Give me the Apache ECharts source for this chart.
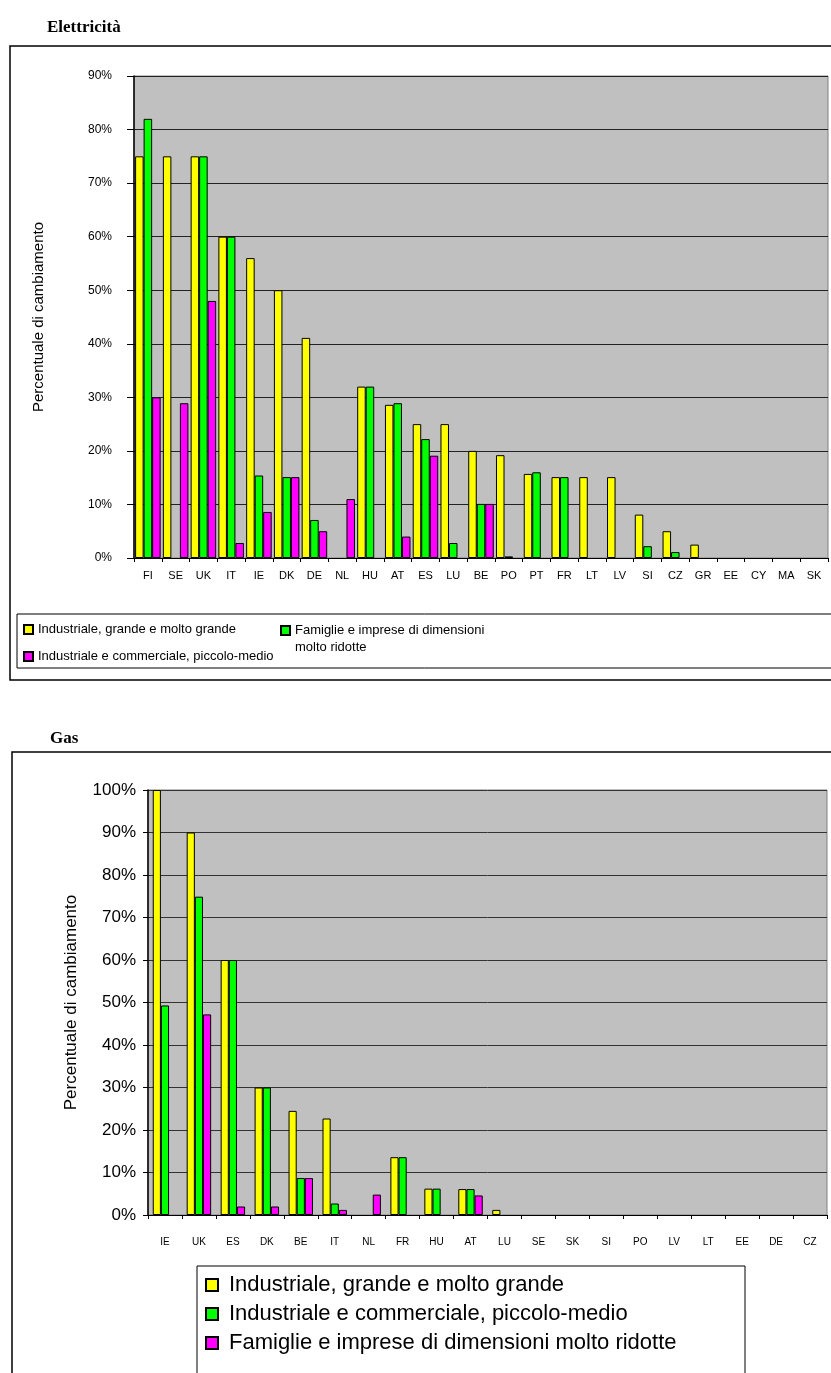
<!DOCTYPE html>
<html>
<head>
<meta charset="utf-8">
<script src="https://cdn.jsdelivr.net/npm/echarts@6/dist/echarts.min.js"></script>
<style>
html,body{margin:0;padding:0;background:#fff;}
#c1{position:absolute;left:0;top:0;width:831px;height:690px;}
#c2{position:absolute;left:0;top:690px;width:831px;height:683px;}
</style>
</head>
<body>
<div id="c1"></div>
<div id="c2"></div>
<script>
// ---------- Elettricità ----------
const elecCategories = ['FI','SE','UK','IT','IE','DK','DE','NL','HU','AT','ES','LU','BE','PO','PT','FR','LT','LV','SI','CZ','GR','EE','CY','MA','SK'];
const elecIndustrialeGrande = [75,75,75,60,56,50,41.1,null,32,28.6,25,25,20,19.2,15.7,15.1,15.1,15.1,8.1,5,2.5,null,null,null,null];
const elecFamiglie = [82,null,75,60,15.4,15.1,7.1,null,32,28.9,22.2,2.8,10.1,0.3,16,15.1,null,null,2.2,1.1,null,null,null,null,null];
const elecIndComm = [30,28.9,48,2.8,8.6,15.1,5,11,null,4,19.1,null,10.1,null,null,null,null,null,null,null,null,null,null,null,null];
const elecYTicks = [0,90,10];

// ---------- Gas ----------
const gasCategories = ['IE','UK','ES','DK','BE','IT','NL','FR','HU','AT','LU','SE','SK','SI','PO','LV','LT','EE','DE','CZ'];
const gasIndustrialeGrande = [100,90,60,30,24.5,22.7,null,13.6,6.2,6.1,1.2,null,null,null,null,null,null,null,null,null];
const gasIndComm = [49.3,74.9,60,30,8.7,2.7,null,13.6,6.2,6.1,null,null,null,null,null,null,null,null,null,null];
const gasFamiglie = [null,47.2,2,2,8.7,1.2,4.8,null,null,4.6,null,null,null,null,null,null,null,null,null,null];
const gasYTicks = [0,100,10];

const NAME_IG = 'Industriale, grande e molto grande';
const NAME_IC = 'Industriale e commerciale, piccolo-medio';
const NAME_FA = 'Famiglie e imprese di dimensioni molto ridotte';
const YEL = '#FFFF00', GRN = '#00FF00', MAG = '#FF00FF';
const FONT = 'Liberation Sans, Arial, sans-serif';

function barSeries(name, data, color, gapCat) {
  return {
    name: name, type: 'bar', data: data,
    barGap: '0%', barCategoryGap: gapCat,
    itemStyle: { color: color, borderColor: '#000', borderWidth: 1 },
    emphasis: { disabled: true }
  };
}

const c1 = echarts.init(document.getElementById('c1'), null, { renderer: 'canvas' });
c1.setOption({
  animation: false,
  backgroundColor: '#fff',
  title: {
    text: 'Elettricità', left: 42, top: 14,
    textStyle: { fontFamily: 'Liberation Serif, Times New Roman, serif', fontWeight: 'bold', fontSize: 17, color: '#000' }
  },
  graphic: [
    { type: 'rect', shape: { x: 10, y: 46, width: 830, height: 634 }, style: { fill: 'none', stroke: '#000', lineWidth: 1.5 }, z: -1 },
    { type: 'rect', shape: { x: 17, y: 614, width: 830, height: 54 }, style: { fill: 'none', stroke: '#000', lineWidth: 1 } }
  ],
  legend: [
    { data: [NAME_IG], left: 23, top: 623, padding: 0, itemWidth: 9, itemHeight: 9, icon: 'rect',
      textStyle: { fontFamily: FONT, fontSize: 13, color: '#000' } },
    { data: [NAME_IC], left: 23, top: 650, padding: 0, itemWidth: 9, itemHeight: 9, icon: 'rect',
      textStyle: { fontFamily: FONT, fontSize: 13, color: '#000' } },
    { data: [NAME_FA], left: 280, top: 605, padding: 0, itemWidth: 9, itemHeight: 9, icon: 'rect',
      formatter: function () { return ' \nFamiglie e imprese di dimensioni\nmolto ridotte'; },
      textStyle: { fontFamily: FONT, fontSize: 13, color: '#000', lineHeight: 17 } }
  ],
  grid: { left: 134, top: 76, width: 694, height: 482, show: true, backgroundColor: '#C0C0C0', borderColor: '#808080', borderWidth: 1 },
  xAxis: {
    type: 'category', data: elecCategories,
    axisLine: { lineStyle: { color: '#000', width: 1 } },
    axisTick: { show: true, length: 4, lineStyle: { color: '#000' } },
    axisLabel: { interval: 0, fontFamily: FONT, fontSize: 11, color: '#000', margin: 12 }
  },
  yAxis: {
    type: 'value', min: elecYTicks[0], max: elecYTicks[1], interval: elecYTicks[2],
    name: 'Percentuale di cambiamento', nameLocation: 'middle', nameGap: 88,
    nameTextStyle: { fontFamily: FONT, fontSize: 15, color: '#000' },
    axisLine: { show: true, lineStyle: { color: '#000', width: 1.5 } },
    axisTick: { show: true, length: 7, lineStyle: { color: '#000' } },
    axisLabel: { formatter: '{value}%', fontFamily: FONT, fontSize: 12, color: '#000', margin: 22 },
    splitLine: { show: true, lineStyle: { color: '#222', width: 1 } }
  },
  series: [
    barSeries(NAME_IG, elecIndustrialeGrande, YEL, '8%'),
    barSeries(NAME_FA, elecFamiglie, GRN, '8%'),
    barSeries(NAME_IC, elecIndComm, MAG, '8%')
  ]
});

const c2 = echarts.init(document.getElementById('c2'), null, { renderer: 'canvas' });
c2.setOption({
  animation: false,
  backgroundColor: '#fff',
  title: {
    text: 'Gas', left: 45, top: 35,
    textStyle: { fontFamily: 'Liberation Serif, Times New Roman, serif', fontWeight: 'bold', fontSize: 17, color: '#000' }
  },
  graphic: [
    { type: 'rect', shape: { x: 12, y: 62, width: 830, height: 700 }, style: { fill: 'none', stroke: '#000', lineWidth: 1.5 }, z: -1 },
    { type: 'rect', shape: { x: 197, y: 576, width: 548, height: 200 }, style: { fill: 'none', stroke: '#000', lineWidth: 1 } }
  ],
  legend: [
    { data: [NAME_IG], left: 205, top: 584, padding: 0, itemWidth: 12, itemHeight: 12, icon: 'rect',
      textStyle: { fontFamily: FONT, fontSize: 22, color: '#000', padding: [0, 0, 0, 6] } },
    { data: [NAME_IC], left: 205, top: 613, padding: 0, itemWidth: 12, itemHeight: 12, icon: 'rect',
      textStyle: { fontFamily: FONT, fontSize: 22, color: '#000', padding: [0, 0, 0, 6] } },
    { data: [NAME_FA], left: 205, top: 642, padding: 0, itemWidth: 12, itemHeight: 12, icon: 'rect',
      textStyle: { fontFamily: FONT, fontSize: 22, color: '#000', padding: [0, 0, 0, 6] } }
  ],
  grid: { left: 148, top: 100, width: 679, height: 425, show: true, backgroundColor: '#C0C0C0', borderColor: '#808080', borderWidth: 1 },
  xAxis: {
    type: 'category', data: gasCategories,
    axisLine: { lineStyle: { color: '#000', width: 1 } },
    axisTick: { show: true, length: 4, lineStyle: { color: '#000' } },
    axisLabel: { interval: 0, fontFamily: FONT, fontSize: 10, color: '#000', margin: 22 }
  },
  yAxis: {
    type: 'value', min: gasYTicks[0], max: gasYTicks[1], interval: gasYTicks[2],
    name: 'Percentuale di cambiamento', nameLocation: 'middle', nameGap: 68,
    nameTextStyle: { fontFamily: FONT, fontSize: 17, color: '#000' },
    axisLine: { show: true, lineStyle: { color: '#000', width: 1.5 } },
    axisTick: { show: true, length: 5, lineStyle: { color: '#000' } },
    axisLabel: { formatter: '{value}%', fontFamily: FONT, fontSize: 17, color: '#000', margin: 12 },
    splitLine: { show: true, lineStyle: { color: '#333', width: 1 } }
  },
  series: [
    barSeries(NAME_IG, gasIndustrialeGrande, YEL, '28%'),
    barSeries(NAME_IC, gasIndComm, GRN, '28%'),
    barSeries(NAME_FA, gasFamiglie, MAG, '28%')
  ]
});
</script>
</body>
</html>
